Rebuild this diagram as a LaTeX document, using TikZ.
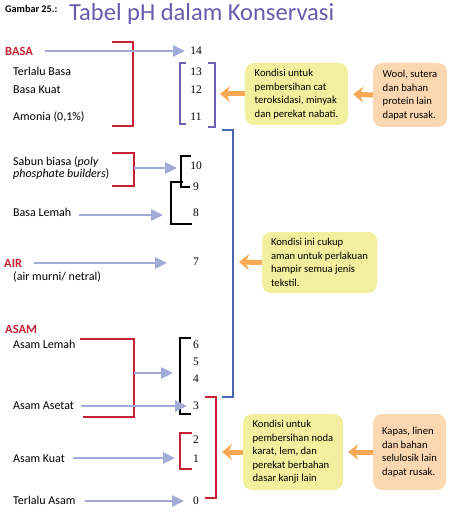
\documentclass[tikz,border=0pt]{standalone}
\usepackage{fontspec}
\setmainfont{Carlito}
\newfontfamily\numfont{Liberation Serif}
\usetikzlibrary{arrows.meta}
\definecolor{phred}{RGB}{200,32,52}
\definecolor{phblue}{RGB}{162,170,216}
\definecolor{phpurple}{RGB}{112,96,178}
\definecolor{phnavy}{RGB}{72,102,178}
\definecolor{titlepurple}{RGB}{104,90,172}
\definecolor{noteyellow}{RGB}{242,240,158}
\definecolor{notepeach}{RGB}{252,216,178}
\definecolor{noteorange}{RGB}{247,168,84}

\begin{document}
\begin{tikzpicture}[x=1pt,y=-1pt,
		lbl/.style={anchor=base west, inner sep=0pt, font=\fontsize{12}{11.6}\selectfont},
		group/.style={anchor=base west, inner sep=0pt, text=phred, font=\fontsize{12.5}{14}\selectfont\bfseries},
		num/.style={anchor=base, inner sep=0pt, font=\numfont\fontsize{11.5}{13}\selectfont},
		pharrow/.style={-{Triangle[length=12pt,width=11pt]}, line width=2.8pt, draw=phblue},
		notearrow/.style={-{Stealth[length=10pt,width=16pt,inset=3.5pt]}, line width=5pt, draw=noteorange},
		note/.style={rounded corners=9pt, inner xsep=9pt, align=left, font=\fontsize{10.6}{13.6}\selectfont},
		redbr/.style={draw=phred, line width=1.8pt},
		thinbr/.style={line width=1.2pt}
	]
		\useasboundingbox (0,0) rectangle (459,521);
		
		\node[anchor=base west, inner sep=0pt, font=\fontsize{10.2}{12}\selectfont\bfseries] (fig) at (5,12.5) {Gambar 25.:};
		\node[anchor=base west, inner sep=0pt, text=titlepurple, font=\fontsize{24.5}{28}\selectfont] (title) at (69,21) {Tabel pH dalam Konservasi};
		
		\node[group] (basa) at (5,56) {BASA};
		\node[lbl] (terlalubasa) at (13,76) {Terlalu Basa};
		\node[lbl] (basakuat) at (13,94) {Basa Kuat};
		\node[lbl] (amonia) at (13,121) {Amonia (0,1\%)};
		\node[lbl, anchor=north west, align=left] (sabun) at (13,156.7) {Sabun biasa (\textit{poly}\\\textit{phosphate builders})};
		\node[lbl] (basalemah) at (13,216.7) {Basa Lemah};
		\node[group] (air) at (4,267) {AIR};
		\node[lbl] (netral) at (13,280) {(air murni/ netral)};
		\node[group] (asam) at (5,333) {ASAM};
		\node[lbl] (asamlemah) at (13,348) {Asam Lemah};
		\node[lbl] (asetat) at (13,409) {Asam Asetat};
		\node[lbl] (asamkuat) at (13,462) {Asam Kuat};
		\node[lbl] (terlaluasam) at (13,504) {Terlalu Asam};
		
		\node[num] (n14) at (196,55) {14};
		\node[num] (n13) at (196,76) {13};
		\node[num] (n12) at (196,94) {12};
		\node[num] (n11) at (196,121) {11};
		\node[num] (n10) at (196,170) {10};
		\node[num] (n9) at (196,190) {9};
		\node[num] (n8) at (196,216) {8};
		\node[num] (n7) at (196,265) {7};
		\node[num] (n6) at (196,348) {6};
		\node[num] (n5) at (196,365) {5};
		\node[num] (n4) at (196,382) {4};
		\node[num] (n3) at (196,409) {3};
		\node[num] (n2) at (196,443) {2};
		\node[num] (n1) at (196,462) {1};
		\node[num] (n0) at (196,504) {0};
		
		\draw[redbr] (112,42) -- (133,42) -- (133,126) -- (112,126);
		\draw[redbr] (112,153) -- (134,153) -- (134,186) -- (112,186);
		\draw[redbr] (80,339) -- (134,339) -- (134,417) -- (83,417);
		\draw[thinbr, draw=phpurple] (186,63) -- (180,63) -- (180,124) -- (186,124);
		\draw[thinbr, draw=phpurple] (208,63) -- (215,63) -- (215,127) -- (208,127);
		\draw[thinbr, draw=phnavy] (222,130) -- (233,130) -- (233,397) -- (222,397);
		\draw[thinbr] (191,156) -- (181,156) -- (181,187) -- (190,187);
		\draw[thinbr] (183,182) -- (171,182) -- (171,224) -- (192,224);
		\draw[thinbr] (191,338) -- (180,338) -- (180,414) -- (191,414);
		\draw[thinbr, draw=phred] (192,433) -- (180,433) -- (180,469) -- (192,469);
		\draw[thinbr, draw=phred] (205,397) -- (216,397) -- (216,498) -- (205,498);
		
		\coordinate (t14) at (185,51);
		\coordinate (sabunbr) at (134,168);
		\coordinate (t10) at (177,168);
		\coordinate (t8) at (163,215);
		\coordinate (t7) at (167,263);
		\coordinate (asambr) at (134,373);
		\coordinate (t4) at (173,373);
		\coordinate (t3) at (187,406);
		\coordinate (t1) at (175,458);
		\coordinate (t0) at (184,501);
		
		\path (basa.east |- t14) edge[pharrow, shorten <=12pt] (t14);
		\path (sabunbr) edge[pharrow] (t10);
		\path (basalemah.east |- t8) edge[pharrow, shorten <=8pt] (t8);
		\path (air.east |- t7) edge[pharrow, shorten <=12pt] (t7);
		\path (asambr) edge[pharrow] (t4);
		\path (asetat.east |- t3) edge[pharrow, shorten <=7pt] (t3);
		\path (asamkuat.east |- t1) edge[pharrow, shorten <=8pt] (t1);
		\path (terlaluasam.east |- t0) edge[pharrow, shorten <=9pt] (t0);
		
		\node[note, fill=noteyellow, minimum width=103pt, minimum height=62pt] (cat) at (296.5,94) {Kondisi untuk\\pembersihan cat\\teroksidasi, minyak\\dan perekat nabati.};
		\node[note, fill=notepeach, minimum width=74pt, minimum height=64pt] (wool) at (410,95) {Wool, sutera\\dan bahan\\protein lain\\dapat rusak.};
		\node[note, fill=noteyellow, minimum width=115pt, minimum height=61pt] (aman) at (319.5,262.5) {Kondisi ini cukup\\aman untuk perlakuan\\hampir semua jenis\\tekstil.};
		\node[note, fill=noteyellow, minimum width=100pt, minimum height=76pt] (noda) at (293,452) {Kondisi untuk\\pembersihan noda\\karat, lem, dan\\perekat berbahan\\dasar kanji lain};
		\node[note, fill=notepeach, minimum width=73pt, minimum height=76pt] (kapas) at (409.5,452) {Kapas, linen\\dan bahan\\selulosik lain\\dapat rusak.};
		
		\coordinate (tcat) at (220,94);
		\coordinate (taman) at (239,262);
		\coordinate (tnoda) at (222,452);
		
		\path (wool.west) edge[notearrow, shorten >=5pt] (cat.east);
		\path (cat.west) edge[notearrow] (tcat);
		\path (aman.west) edge[notearrow] (taman);
		\path (kapas.west) edge[notearrow, shorten >=5pt] (noda.east);
		\path (noda.west) edge[notearrow] (tnoda);
	\end{tikzpicture}
\end{document}
